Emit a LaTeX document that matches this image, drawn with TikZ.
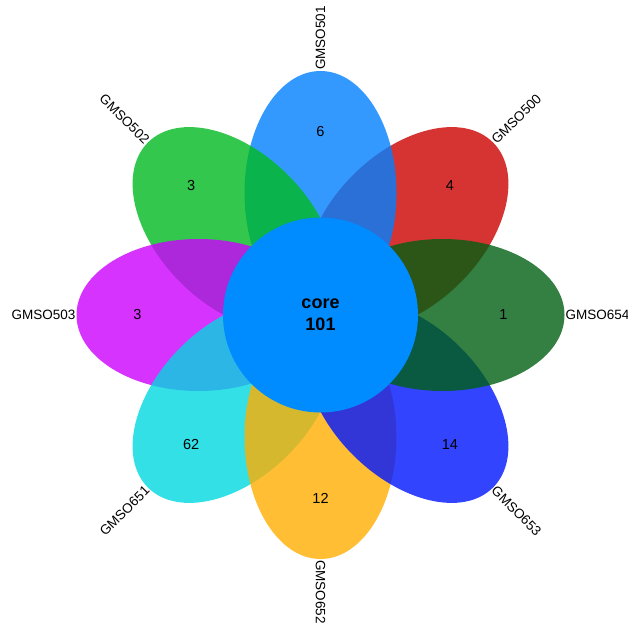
\documentclass[tikz,border=0pt]{standalone}
\usepackage{fontspec}
\setmainfont{Liberation Sans}
\usepackage{xcolor}
\usetikzlibrary{calc}

\definecolor{col500}{RGB}{204,0,0}
\definecolor{col501}{RGB}{0,128,255}
\definecolor{col502}{RGB}{0,186,32}
\definecolor{col503}{RGB}{204,0,255}
\definecolor{col651}{RGB}{0,216,224}
\definecolor{col652}{RGB}{255,174,0}
\definecolor{col653}{RGB}{0,21,255}
\definecolor{col654}{RGB}{0,96,19}
\definecolor{colcore}{RGB}{0,140,255}

\begin{document}
\begin{tikzpicture}[
    x=1pt, y=1pt,
    petal/.style={fill opacity=0.8},
    corecircle/.style={circle, fill=colcore, minimum size=195pt, inner sep=0pt, align=center, font=\fontsize{18}{22}\selectfont\bfseries},
    count/.style={font=\fontsize{14.5}{16}\selectfont, inner sep=0pt},
    sample/.style={font=\fontsize{13.5}{16}\selectfont, inner sep=0pt}
]
\useasboundingbox (0,0) rectangle (628,627);
\coordinate (o) at (320.5,312);

% Petals, drawn in sample order
\fill[petal, fill=col500] ($(o)+(45:122)$) ellipse [x radius=122pt, y radius=76pt, rotate=45];
\fill[petal, fill=col501] ($(o)+(90:122)$) ellipse [x radius=122pt, y radius=76pt, rotate=90];
\fill[petal, fill=col502] ($(o)+(135:122)$) ellipse [x radius=122pt, y radius=76pt, rotate=135];
\fill[petal, fill=col503] ($(o)+(180:122)$) ellipse [x radius=122pt, y radius=76pt, rotate=180];
\fill[petal, fill=col651] ($(o)+(225:122)$) ellipse [x radius=122pt, y radius=76pt, rotate=225];
\fill[petal, fill=col652] ($(o)+(270:122)$) ellipse [x radius=122pt, y radius=76pt, rotate=270];
\fill[petal, fill=col653] ($(o)+(315:122)$) ellipse [x radius=122pt, y radius=76pt, rotate=315];
\fill[petal, fill=col654] ($(o)+(0:122)$) ellipse [x radius=122pt, y radius=76pt, rotate=0];

% Core
\node[corecircle] (core) at (o) {core\\101};

% Unique counts
\node[count] (n500) at ($(o)+(45:183)$) {4};
\node[count] (n501) at ($(o)+(90:183)$) {6};
\node[count] (n502) at ($(o)+(135:183)$) {3};
\node[count] (n503) at ($(o)+(180:183)$) {3};
\node[count] (n651) at ($(o)+(225:183)$) {62};
\node[count] (n652) at ($(o)+(270:183)$) {12};
\node[count] (n653) at ($(o)+(315:183)$) {14};
\node[count] (n654) at ($(o)+(0:183)$) {1};

% Sample names
\node[sample, anchor=west, rotate=45] (s500) at ($(o)+(45:245)$) {GMSO500};
\node[sample, anchor=west, rotate=90] (s501) at ($(o)+(90:245)$) {GMSO501};
\node[sample, anchor=east, rotate=-45] (s502) at ($(o)+(135:245)$) {GMSO502};
\node[sample, anchor=east] (s503) at ($(o)+(180:245)$) {GMSO503};
\node[sample, anchor=east, rotate=45] (s651) at ($(o)+(225:245)$) {GMSO651};
\node[sample, anchor=west, rotate=-90] (s652) at ($(o)+(270:245)$) {GMSO652};
\node[sample, anchor=west, rotate=-45] (s653) at ($(o)+(315:245)$) {GMSO653};
\node[sample, anchor=west] (s654) at ($(o)+(0:245)$) {GMSO654};
\end{tikzpicture}
\end{document}
